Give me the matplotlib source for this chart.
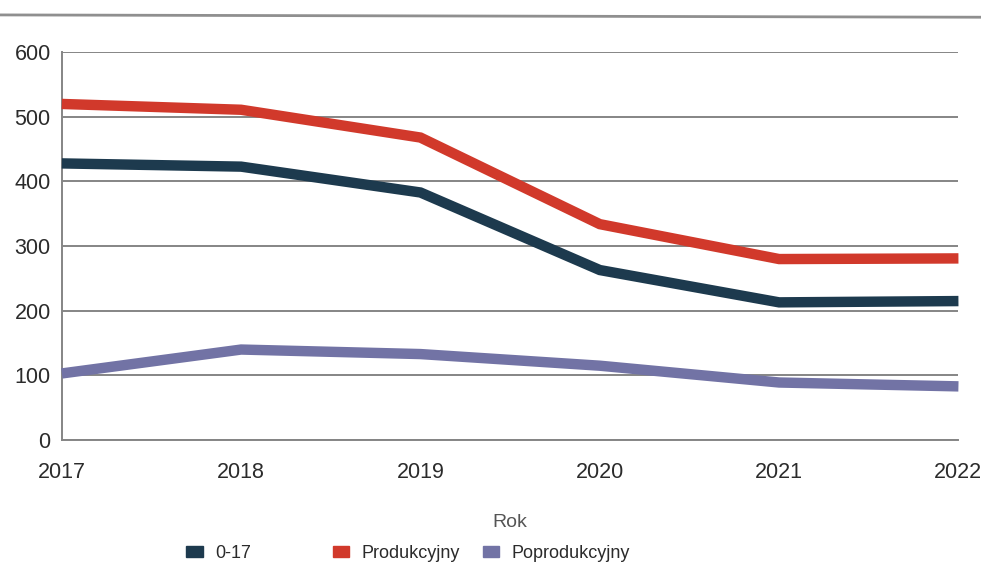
import matplotlib.pyplot as plt
from matplotlib.lines import Line2D
from matplotlib.patches import Patch

plt.rcParams['font.family'] = ['Liberation Sans', 'DejaVu Sans']

years = [2017, 2018, 2019, 2020, 2021, 2022]
age_0_17 = [428, 423, 383, 263, 213, 215]
produkcyjny = [520, 511, 468, 334, 280, 281]
poprodukcyjny = [103, 140, 133, 115, 89, 83]

labels = ['0-17', 'Produkcyjny', 'Poprodukcyjny']
colors = ['#1d3a4e', '#d1392b', '#7273a5']

fig = plt.figure(figsize=(9.81, 5.74), dpi=100)
ax = fig.add_axes([0.063, 0.2334, 0.914, 0.6756])

for series, col in zip([age_0_17, produkcyjny, poprodukcyjny], colors):
    ax.plot(years, series, color=col, linewidth=7.5, solid_capstyle='butt',
            solid_joinstyle='miter', clip_on=False, zorder=3)

ax.set_xlim(2017, 2022)
ax.set_ylim(0, 600)
ax.set_yticks(range(0, 601, 100))
ax.set_xticks(years)
ax.grid(axis='y', color='#858585', linewidth=1.4)
ax.set_axisbelow(True)
for s in ['top', 'right']:
    ax.spines[s].set_visible(False)
for s in ['left', 'bottom']:
    ax.spines[s].set_color('#858585')
    ax.spines[s].set_linewidth(1.4)
ax.tick_params(length=0, labelsize=15.5, labelcolor='#2b2b2b')
ax.tick_params(axis='y', pad=8)
ax.tick_params(axis='x', pad=16)

ax.set_xlabel('Rok', fontsize=14, color='#555555', labelpad=22)

# legend entries sit in fixed-width cells, so place each one on its own
legend_x = [0.190, 0.339, 0.492]
for h, lab, c, x in zip(range(3), labels, colors, legend_x):
    fig.legend([Patch(color=c)], [lab], loc='center left',
               bbox_to_anchor=(x, 0.036), frameon=False, fontsize=13,
               handlelength=0.9, handleheight=0.55, handletextpad=0.7,
               borderpad=0, borderaxespad=0, labelcolor='#2b2b2b')

# separator line at the top of the cropped page
fig.add_artist(Line2D([0, 1], [0.974, 0.970], color='#8f8f8f', linewidth=2,
                      transform=fig.transFigure))

fig.savefig('out.png', dpi=100)
